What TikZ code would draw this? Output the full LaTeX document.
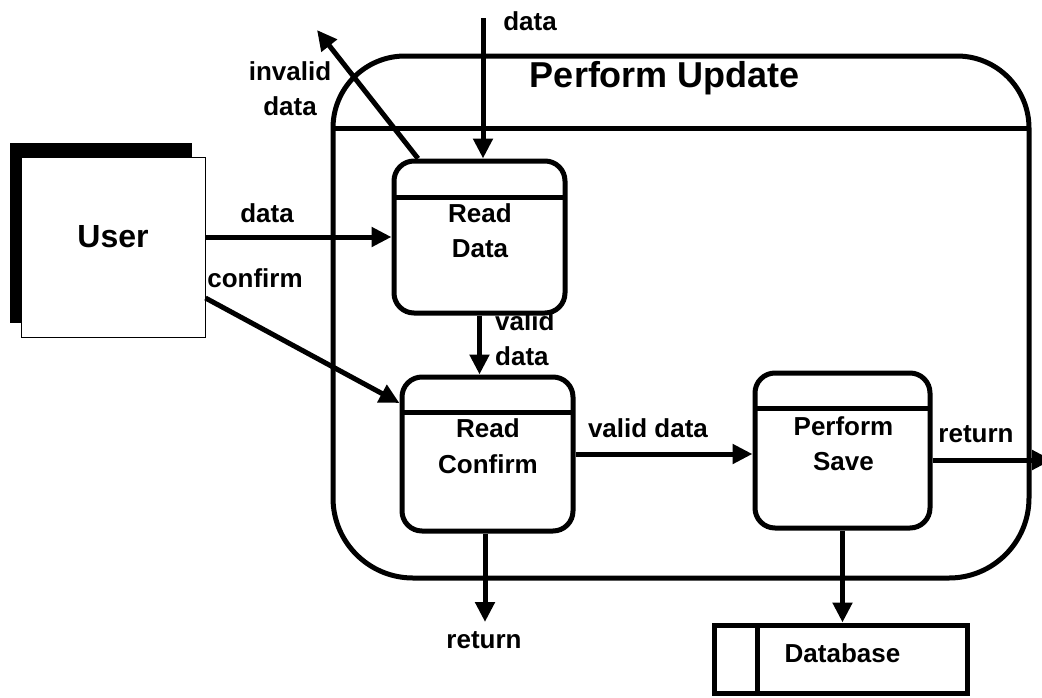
\documentclass[tikz,border=0pt]{standalone}
\usepackage{fontspec}
\setmainfont{Liberation Sans}
\usetikzlibrary{arrows.meta}
\tikzset{
  x=1pt,y=-1pt,
  lbl/.style={font=\fontsize{26}{30}\selectfont\bfseries, inner sep=0pt, anchor=base},
  proc/.style={draw, line width=5pt, fill=white, rounded corners=20pt, inner sep=0pt},
  flow/.style={line width=5pt, -{Triangle[length=20pt,width=19pt]}},
}
\begin{document}
\begin{tikzpicture}
\useasboundingbox (0,0) rectangle (1042,697);
% container
\draw[line width=5pt] (333,300) [rounded corners=72pt] -- (333,56) -- (1029,56) -- (1029,300)
  [rounded corners=80pt] -- (1029,578) -- (333,578) -- cycle;
\draw[line width=5pt] (333,128) -- (1029,128);
\node[lbl, font=\fontsize{36}{40}\selectfont\bfseries] (title) at (665,87) {Perform Update};

% User external entity
\fill (10,143) rectangle (192,323);
\node[draw, fill=white, line width=1pt, minimum width=184pt, minimum height=180pt, inner sep=0pt] (user) at (113,247) {};
\node[lbl, font=\fontsize{32}{36}\selectfont\bfseries] (usert) at (113,247) {User};

% labels under boxes
\node[lbl, anchor=base west] (vd1) at (495,330) {valid};
\node[lbl, anchor=base west] (vd2) at (495,365) {data};

% processes
\node[proc, minimum width=171pt, minimum height=152pt] (rd) at (479.5,237) {};
\draw[line width=5pt] (394,197) -- (565,197);
\node[lbl] (rdt1) at (480,222) {Read};
\node[lbl] (rdt2) at (480,257) {Data};

\node[proc, minimum width=171pt, minimum height=154pt] (rc) at (487.5,454) {};
\draw[line width=5pt] (402,412) -- (573,412);
\node[lbl] (rct1) at (488,437) {Read};
\node[lbl] (rct2) at (488,473) {Confirm};

\node[proc, minimum width=175pt, minimum height=155pt] (ps) at (842.5,450.5) {};
\draw[line width=5pt] (755,408) -- (930,408);
\node[lbl] (pst1) at (843.5,435) {Perform};
\node[lbl] (pst2) at (843.5,470) {Save};

% data store
\node[draw, line width=5pt, minimum width=253pt, minimum height=68pt, inner sep=0pt] (db) at (840.5,659) {};
\draw[line width=5pt] (757,625) -- (757,693);
\node[lbl] (dbt) at (842.5,662) {Database};

% coordinates
\coordinate (dtop) at (483,18);
\coordinate (inv) at (317,30);
\coordinate (ret1) at (485,622);
\coordinate (retR) at (1052,460);

% flows
\draw[flow] (dtop) -- (dtop |- rd.north);
\draw[flow] ([xshift=-61.5pt]rd.north) -- (inv);
\draw[flow] (user.east |- rd.west) -- (rd.west);
\draw[flow] ([yshift=-51pt]user.east) -- ([yshift=51pt]rc.west);
\draw[flow] (rd.south) -- (rd.south |- rc.north);
\draw[flow] (rc.east) -- (rc.east -| ps.west);
\draw[flow] (rc.south -| ret1) -- (ret1);
\draw[flow] (ps.south) -- (ps.south |- db.north);
\draw[flow] ([yshift=-9.5pt]ps.east) -- (retR);

% flow labels
\node[lbl] (l1) at (530,30) {data};
\node[lbl] (l2) at (290,80) {invalid};
\node[lbl] (l3) at (290,115) {data};
\node[lbl] (l4) at (267,222) {data};
\node[lbl] (l5) at (255,287) {confirm};
\node[lbl] (l6) at (648,437) {valid data};
\node[lbl] (l7) at (484,648) {return};
\node[lbl] (l8) at (976,442) {return};
\end{tikzpicture}
\end{document}
